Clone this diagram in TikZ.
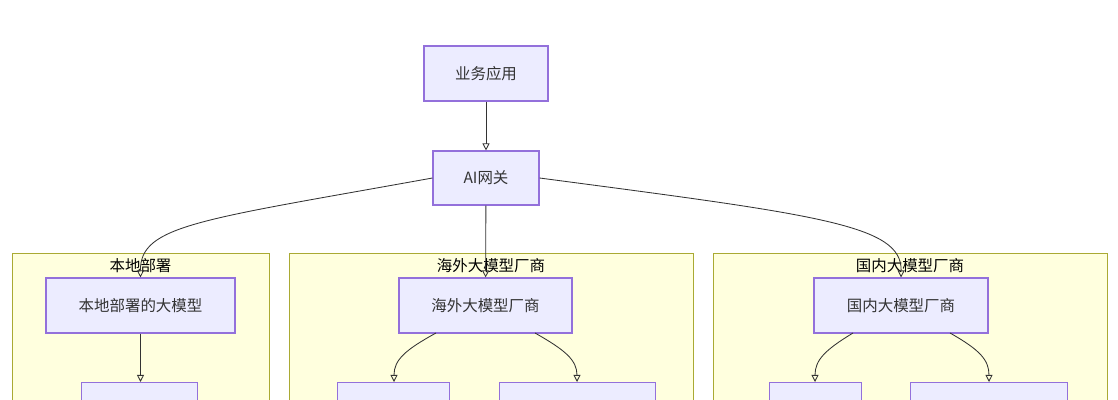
\documentclass[tikz,border=0pt]{standalone}
\usepackage{fontspec}
\setmainfont{Noto Sans CJK SC}
\usetikzlibrary{arrows.meta}
\definecolor{nodefill}{HTML}{ECECFF}
\definecolor{nodeline}{HTML}{9370DB}
\definecolor{groupfill}{HTML}{FFFFDE}
\definecolor{groupline}{HTML}{AAAA33}
\tikzset{
	box/.style={draw=nodeline,fill=nodefill,line width=0.8pt,font=\fontsize{11pt}{13pt}\selectfont,text=black!80},
	group/.style={draw=groupline,fill=groupfill,line width=0.6pt},
	link/.style={draw=black!80,line width=0.6pt,-{Triangle[open,length=5pt,width=5pt]}}
}
\begin{document}
\begin{tikzpicture}[x=0.025cm,y=-0.025cm]
	\useasboundingbox (0,0) rectangle (1118,400);
	\clip (0,0) rectangle (1118,400);
	% groups
	\draw[group] (12,253) rectangle (269,420);
	\draw[group] (289,253) rectangle (693,420);
	\draw[group] (713,253) rectangle (1107,420);
	\node[font=\fontsize{11pt}{13pt}\selectfont] (tlocal) at (140.5,266) {本地部署};
	\node[font=\fontsize{11pt}{13pt}\selectfont] (tabroad) at (491,266) {海外大模型厂商};
	\node[font=\fontsize{11pt}{13pt}\selectfont] (thome) at (910,266) {国内大模型厂商};
	% nodes
	\node[box,minimum width=124*0.025cm,minimum height=55*0.025cm] (app) at (486,73.5) {业务应用};
	\node[box,minimum width=106*0.025cm,minimum height=54*0.025cm] (gw) at (486,178) {AI网关};
	\node[box,minimum width=189*0.025cm,minimum height=55*0.025cm] (local) at (140.5,305.5) {本地部署的大模型};
	\node[box,minimum width=173*0.025cm,minimum height=55*0.025cm] (abroad) at (485.5,305.5) {海外大模型厂商};
	\node[box,minimum width=174*0.025cm,minimum height=55*0.025cm] (home) at (901,305.5) {国内大模型厂商};
	\node[box,anchor=north west,minimum width=116*0.025cm,minimum height=40*0.025cm] (l1) at (81,382) {};
	\node[box,anchor=north west,minimum width=112*0.025cm,minimum height=40*0.025cm] (a1) at (337,382) {};
	\node[box,anchor=north west,minimum width=156*0.025cm,minimum height=40*0.025cm] (a2) at (499,382) {};
	\node[box,anchor=north west,minimum width=92*0.025cm,minimum height=40*0.025cm] (h1) at (769,382) {};
	\node[box,anchor=north west,minimum width=157*0.025cm,minimum height=40*0.025cm] (h2) at (910,382) {};
	% links
	\draw[link] (app) -- (gw);
	\draw[link] (gw.west) .. controls (200,220) and (140,225) .. (local.north);
	\draw[link] (gw) -- (abroad);
	\draw[link] (gw.east) .. controls (820,215) and (902,225) .. (home.north);
	\draw[link] (local) -- (local.south |- l1.north);
	\draw[link] (436,333) .. controls (405,350) and (394,360) .. (a1.north -| 394,0);
	\draw[link] (535,333) .. controls (565,350) and (577,360) .. (a2.north -| 577,0);
	\draw[link] (853,333) .. controls (825,350) and (815,360) .. (h1.north -| 815,0);
	\draw[link] (950,333) .. controls (980,350) and (989,360) .. (h2.north -| 989,0);
\end{tikzpicture}
\end{document}
